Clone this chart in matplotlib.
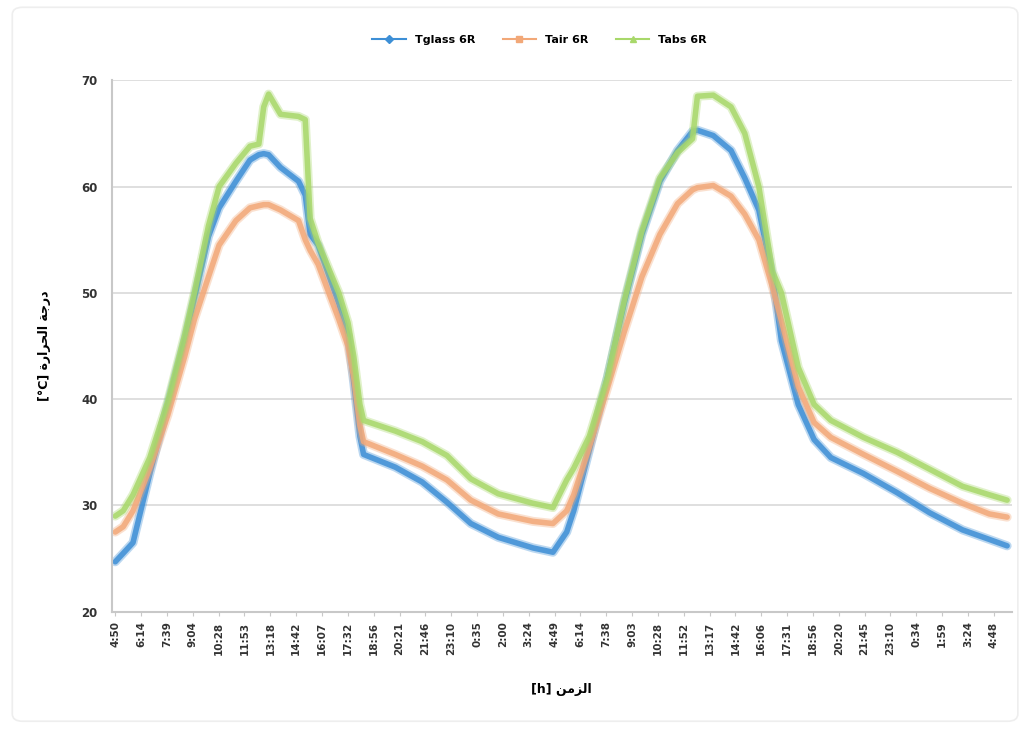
import numpy as np
import matplotlib
matplotlib.use('Agg')
import matplotlib.pyplot as plt
from matplotlib.patches import FancyBboxPatch

# elapsed minutes since 4:50 (first sample)
minutes = [0, 26, 58, 113, 172, 227, 259, 305, 340, 395, 441, 470, 486, 502,
           541, 600, 622, 638, 664, 732, 762, 781, 801, 813, 917, 1005, 1086,
           1164, 1254, 1368, 1433, 1478, 1501, 1552, 1611, 1666, 1724, 1783,
           1841, 1890, 1906, 1958, 2016, 2061, 2107, 2152, 2181, 2236, 2288,
           2343, 2450, 2560, 2667, 2774, 2862, 2920]

t_glass = [24.7, 25.5, 26.5, 33.0, 39.5, 45.5, 49.5, 55.3, 58.0, 60.5, 62.5,
           63.0, 63.1, 63.0, 61.8, 60.5, 59.2, 55.5, 54.5, 49.0, 46.0, 41.5,
           36.5, 34.8, 33.6, 32.2, 30.3, 28.3, 27.0, 26.0, 25.6, 27.5, 29.5,
           35.2, 42.0, 49.0, 55.5, 60.5, 63.4, 65.2, 65.3, 64.8, 63.4, 60.8,
           57.8, 51.5, 45.5, 39.5, 36.2, 34.5, 33.0, 31.2, 29.3, 27.7, 26.8,
           26.2]

t_air = [27.5, 28.0, 29.5, 33.5, 38.5, 44.0, 47.5, 51.5, 54.5, 56.8, 58.0,
         58.2, 58.3, 58.3, 57.8, 56.8, 55.0, 54.0, 52.7, 47.5, 45.0, 42.0,
         37.5, 36.0, 34.8, 33.7, 32.4, 30.5, 29.2, 28.5, 28.3, 29.5, 31.0,
         35.5, 41.0, 46.3, 51.5, 55.5, 58.4, 59.7, 59.9, 60.1, 59.1, 57.4,
         55.0, 50.5, 47.4, 41.2, 37.8, 36.4, 34.8, 33.2, 31.6, 30.2, 29.2,
         28.9]

t_abs = [29.0, 29.5, 31.0, 34.5, 39.8, 46.0, 50.0, 56.3, 60.0, 62.2, 63.8,
         64.0, 67.5, 68.7, 66.8, 66.6, 66.3, 57.0, 54.7, 50.0, 47.2, 44.0,
         39.5, 38.0, 37.0, 36.0, 34.7, 32.5, 31.1, 30.2, 29.8, 32.4, 33.5,
         36.5, 42.0, 49.2, 55.8, 60.8, 63.2, 64.5, 68.5, 68.6, 67.5, 65.0,
         60.0, 52.0, 50.0, 43.0, 39.5, 38.0, 36.4, 35.0, 33.4, 31.8, 31.0,
         30.5]

tick_labels = ['4:50', '6:14', '7:39', '9:04', '10:28', '11:53', '13:18',
               '14:42', '16:07', '17:32', '18:56', '20:21', '21:46', '23:10',
               '0:35', '2:00', '3:24', '4:49', '6:14', '7:38', '9:03',
               '10:28', '11:52', '13:17', '14:42', '16:06', '17:31', '18:56',
               '20:20', '21:45', '23:10', '0:34', '1:59', '3:24', '4:48']
tick_step = 84.6

c_glass = '#3d8fd6'
c_air = '#f2a878'
c_abs = '#a8d86a'

fig = plt.figure(figsize=(10.24, 7.30), dpi=100)
ax = fig.add_axes([0.109, 0.162, 0.879, 0.728])

# faint chart-area border
fig.patches.append(FancyBboxPatch((0.012, 0.012), 0.982, 0.978,
                                  boxstyle='round,pad=0,rounding_size=0.01',
                                  transform=fig.transFigure, fill=False,
                                  ec='#eeeeee', lw=1.2))

for y, c, lab, m in [(t_glass, c_glass, 'Tglass 6R', 'D'),
                     (t_air, c_air, 'Tair 6R', 's'),
                     (t_abs, c_abs, 'Tabs 6R', '^')]:
    ax.plot(minutes, y, color=c, lw=6.5, alpha=0.35, solid_capstyle='round',
            solid_joinstyle='round')
    ax.plot(minutes, y, color=c, lw=4, alpha=0.85, solid_capstyle='round',
            solid_joinstyle='round')
    ax.plot([], [], color=c, lw=1.5, marker=m, markersize=4, label=lab)

ax.set_ylim(20, 70)
ax.set_yticks(np.arange(20, 71, 10))
ax.set_xlim(-12, 2935)
ax.set_xticks([i * tick_step for i in range(len(tick_labels))])
ax.set_xticklabels(tick_labels, rotation=90, fontsize=7.5, fontweight='bold',
                   color='#333333')
for lbl in ax.get_yticklabels():
    lbl.set_fontweight('bold')
    lbl.set_fontsize(8.5)
    lbl.set_color('#333333')

ax.grid(axis='y', color='#d9d9d9', lw=1.2)
ax.set_axisbelow(True)
for s in ['top', 'right']:
    ax.spines[s].set_visible(False)
ax.spines['left'].set_color('#c8c8c8')
ax.spines['bottom'].set_color('#c8c8c8')
ax.spines['left'].set_linewidth(1.5)
ax.spines['bottom'].set_linewidth(1.5)
ax.tick_params(axis='y', length=0, pad=10)
ax.tick_params(axis='x', length=3, color='#c8c8c8', pad=4)

# Arabic labels written in visual order with presentation forms
ax.set_ylabel('[°C] \ufe93\ufead\ufe8d\ufeae\ufea4\ufedf\ufe8d \ufe94\ufe9f\ufead\ufea9',
              fontsize=9, fontweight='bold', labelpad=22, family=['DejaVu Sans'])
ax.set_xlabel('[h] \ufee6\ufee3\ufeb0\ufedf\ufe8d', fontsize=9, fontweight='bold',
              labelpad=20, family=['DejaVu Sans'])

leg = fig.legend(loc='center', bbox_to_anchor=(0.527, 0.945), ncol=3,
                 frameon=False, prop={'size': 8, 'weight': 'bold'},
                 handlelength=3, columnspacing=2.5)

fig.savefig('out.png', dpi=100, facecolor='white')
